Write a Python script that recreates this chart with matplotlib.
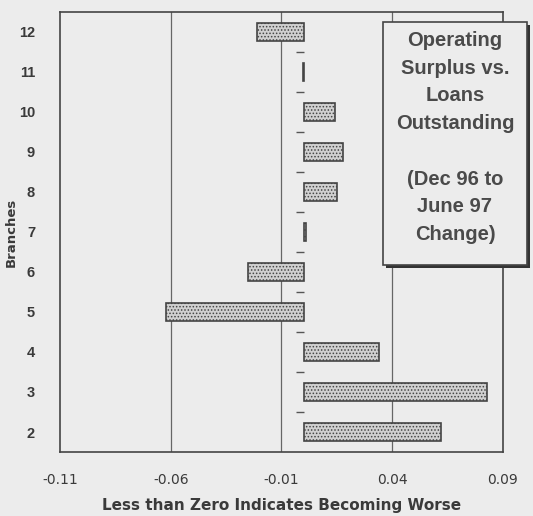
import numpy as np
import matplotlib.pyplot as plt
from matplotlib.patches import Rectangle

branches = [2, 3, 4, 5, 6, 7, 8, 9, 10, 11, 12]
change = [0.062, 0.083, 0.034, -0.062, -0.025, 0.0012, 0.015, 0.018, 0.014, -0.0004, -0.021]
xticks = [-0.11, -0.06, -0.01, 0.04, 0.09]
xtick_labels = ['-0.11', '-0.06', '-0.01', '0.04', '0.09']
box_text = 'Operating\nSurplus vs.\nLoans\nOutstanding\n\n(Dec 96 to\nJune 97\nChange)'

bg = '#ececec'
ink = '#3a3a3a'
plt.rcParams['font.family'] = ['Liberation Sans', 'DejaVu Sans']

fig = plt.figure(figsize=(5.33, 5.16), dpi=100, facecolor=bg)
ax = fig.add_axes([0.1126, 0.124, 0.831, 0.853])
ax.set_facecolor(bg)

plt.rcParams['hatch.color'] = '#7a7a7a'
plt.rcParams['hatch.linewidth'] = 0.7
ax.barh(branches, change, height=0.45, left=0, color='#d0d0d0',
        edgecolor='#444444', linewidth=1.2, hatch='.....', zorder=3)

# gridlines
for x in xticks[1:-1]:
    ax.axvline(x, color='#666666', linewidth=0.9, zorder=1)

# small tick marks on the zero axis between branches
halves = np.arange(2.5, 12.5, 1.0)
ax.plot(np.full(len(halves), -0.0015), halves, linestyle='none', marker='_',
        markersize=6, color='#555555', zorder=2)

ax.set_xlim(-0.11, 0.09)
ax.set_ylim(1.5, 12.5)
ax.set_xticks(xticks)
ax.set_xticklabels(xtick_labels, fontfamily='DejaVu Sans', fontsize=10)
ax.set_yticks(branches)
ax.tick_params(axis='both', length=0, colors=ink)
ax.tick_params(axis='y', pad=18, labelsize=10.5)
ax.tick_params(axis='x', pad=15)
for lab in ax.get_yticklabels():
    lab.set_fontweight('bold')
for s in ax.spines.values():
    s.set_color('#444444')
    s.set_linewidth(1.2)

ax.set_ylabel('Branches', fontsize=9.5, fontweight='bold', color=ink, labelpad=1,
              fontfamily='DejaVu Sans')
ax.set_xlabel('Less than Zero Indicates Becoming Worse', fontsize=11,
              fontweight='bold', color=ink, labelpad=8, fontfamily='DejaVu Sans')

# text box with shadow
bx, by, bw, bh = 0.7186, 0.486, 0.270, 0.471
fig.patches.append(Rectangle((bx + 0.006, by - 0.006), bw, bh, transform=fig.transFigure,
                             facecolor='#333333', edgecolor='none', zorder=5))
fig.patches.append(Rectangle((bx, by), bw, bh, transform=fig.transFigure,
                             facecolor=bg, edgecolor='#444444', linewidth=1.2, zorder=6))
fig.text(bx + bw / 2, by + bh / 2 + 0.012, box_text, ha='center', va='center', fontsize=14.5,
         fontweight='bold', color='#4a4a4a', linespacing=1.58, zorder=7)

fig.savefig('out.png', dpi=100, facecolor=bg)
